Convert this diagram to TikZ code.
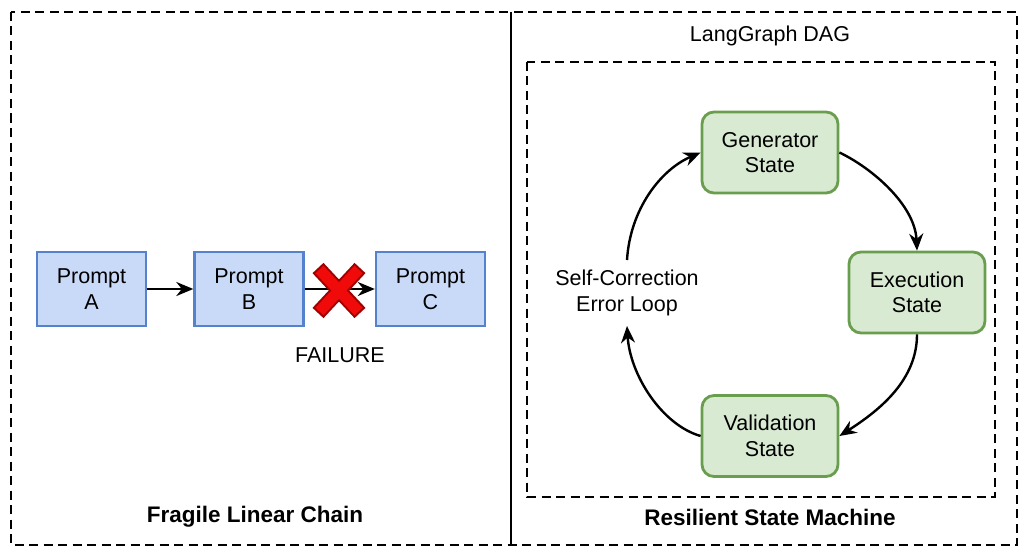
\documentclass[tikz,border=0pt]{standalone}
\usepackage{fontspec}
\setmainfont{Liberation Sans}
\usetikzlibrary{arrows.meta,positioning}
\definecolor{blueline}{RGB}{84,130,205}
\definecolor{bluefill}{RGB}{201,218,248}
\definecolor{greenline}{RGB}{106,158,79}
\definecolor{greenfill}{RGB}{217,234,211}
\definecolor{crossred}{RGB}{240,10,10}
\definecolor{crossdark}{RGB}{160,0,0}

\begin{document}
\begin{tikzpicture}[x=1pt,y=-1pt]

\def\boxwidth{109pt}
\def\boxheight{74pt}

\tikzset{line/.style={draw,line width=2.4pt}}
\tikzset{arrow/.style={line,-{Stealth[length=17pt,width=14pt]}}}
\tikzset{textnode/.style={inner sep=0pt,align=center,font=\fontsize{21.5}{25.5}\selectfont}}
\tikzset{titlenode/.style={textnode,font=\fontsize{22.5}{26}\selectfont\bfseries}}
\tikzset{dashbox/.style={draw,line width=2pt,dash pattern=on 9pt off 5.5pt}}
\tikzset{promptbox/.style={line,textnode,fill=bluefill,draw=blueline,minimum width=\boxwidth,minimum height=\boxheight}}
\tikzset{statebox/.style={line,textnode,fill=greenfill,draw=greenline,line width=2.8pt,rounded corners=12pt,minimum width=136pt,minimum height=81pt}}

\useasboundingbox (0,0) rectangle (1024,559);

% panels
\draw[dashbox] (11,12) rectangle (1017,545);
\draw[line width=2.2pt] (511,12) -- (511,545);
\draw[dashbox] (527,62) rectangle (995,497);

% left: linear chain
\node[promptbox] (promptA) at (91.5,289) {Prompt\\A};
\node[promptbox] (promptB) at (249,289) {Prompt\\B};
\node[promptbox] (promptC) at (430.5,289) {Prompt\\C};

\node[textnode] (failure) at (340,355) {FAILURE};

\path[arrow] (promptA) to (promptB);
\path[arrow] (promptB) to (promptC);

\draw[crossdark,line width=15pt] (318,268) -- (360,313);
\draw[crossdark,line width=15pt] (360,268) -- (318,313);
\draw[crossred,line width=11pt] (319.5,269.5) -- (358.5,311.5);
\draw[crossred,line width=11pt] (358.5,269.5) -- (319.5,311.5);

\node[titlenode] (chaintitle) at (255,517) {Fragile Linear Chain};

% right: state machine
\node[textnode] (dagtitle) at (770,36) {LangGraph DAG};

\node[statebox] (generator) at (770,152.5) {Generator\\State};
\node[statebox] (execution) at (917,292.5) {Execution\\State};
\node[statebox] (validation) at (770,436) {Validation\\State};

\node[textnode,inner sep=10pt] (loop) at (627,293) {Self-Correction\\Error Loop};

\path[arrow] (generator.east) .. controls (872,168) and (915,205) .. (execution.north);
\path[arrow] (execution.south) .. controls (917,380) and (880,410) .. (validation.east);
\path[arrow] (validation.west) .. controls (662,425) and (630,375) .. (loop.south);
\path[arrow] (loop.north) .. controls (630,210) and (660,170) .. (generator.west);

\node[titlenode] (machinetitle) at (770,517) {Resilient State Machine};

\end{tikzpicture}
\end{document}
